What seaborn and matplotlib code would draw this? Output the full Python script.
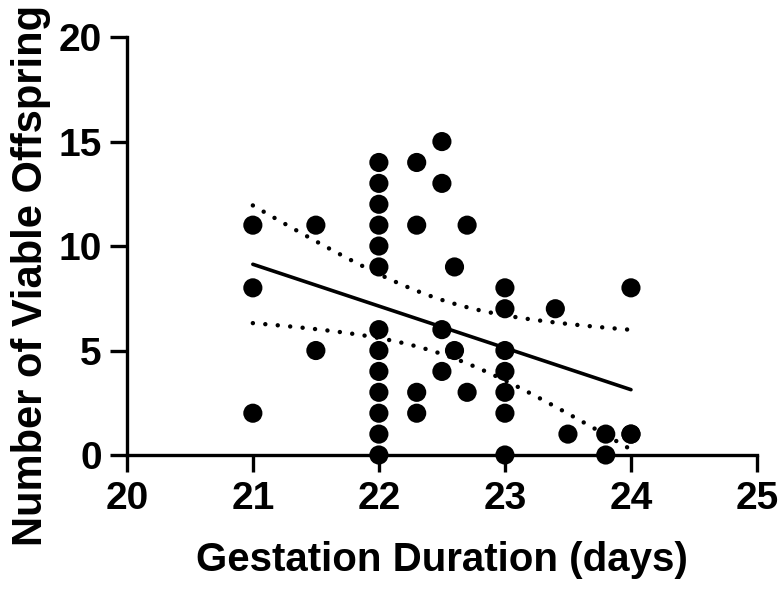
import numpy as np
import pandas as pd
import seaborn as sns
import matplotlib
matplotlib.use("Agg")
import matplotlib.pyplot as plt

sns.set_theme(style="ticks", rc={"axes.spines.right": False, "axes.spines.top": False})
plt.rcParams['font.family'] = ['Liberation Sans', 'DejaVu Sans']
plt.rcParams['font.weight'] = 'bold'

# gestation duration (days) and number of viable offspring
# (one hidden duplicate at 24 days / 1 offspring, overlapping a visible dot)
gestation = ([21.0] * 3 + [21.5] * 2 + [22.0] * 13 + [22.3] * 4 + [22.5] * 4
             + [22.6] * 2 + [22.7] * 2 + [23.0] * 7 + [23.4] + [23.5]
             + [23.8] * 2 + [24.0] * 3)
offspring = ([11, 8, 2] + [11, 5]
             + [14, 13, 12, 11, 10, 9, 6, 5, 4, 3, 2, 1, 0]
             + [14, 11, 3, 2] + [15, 13, 6, 4] + [9, 5] + [11, 3]
             + [8, 7, 5, 4, 3, 2, 0] + [7] + [1] + [1, 0] + [8, 1, 1])

x_ticks = [20, 21, 22, 23, 24, 25]
y_ticks = [0, 5, 10, 15, 20]

df = pd.DataFrame({'gestation': gestation, 'offspring': offspring})

# linear fit with 95% confidence band
x = df['gestation'].values
y = df['offspring'].values
n = len(x)
slope, intercept = np.polyfit(x, y, 1)
xg = np.linspace(x.min(), x.max(), 100)
yg = intercept + slope * xg
resid = y - (intercept + slope * x)
s = np.sqrt((resid ** 2).sum() / (n - 2))
sxx = ((x - x.mean()) ** 2).sum()
t_crit = 2.018  # t(0.975, df~42)
half = t_crit * s * np.sqrt(1 / n + (xg - x.mean()) ** 2 / sxx)
fit = pd.DataFrame({'x': xg, 'fit': yg, 'lo': yg - half, 'hi': yg + half})

fig = plt.figure(figsize=(7.78, 5.89), dpi=100)
ax = fig.add_axes([0.163, 0.2275, 0.81, 0.7095])

sns.scatterplot(data=df, x='gestation', y='offspring', ax=ax, color='black',
                s=190, edgecolor='none', zorder=3, clip_on=False)
sns.lineplot(data=fit, x='x', y='fit', ax=ax, color='black', linewidth=2.6)
for col in ['lo', 'hi']:
    ln = sns.lineplot(data=fit, x='x', y=col, ax=ax, color='black', linewidth=3.2)
    ln.lines[-1].set_linestyle((0, (0.01, 2.8)))
    ln.lines[-1].set_dash_capstyle('round')

ax.set_xlim(20, 25)
ax.set_ylim(0, 20)
ax.set_xticks(x_ticks)
ax.set_yticks(y_ticks)
for sp in ['left', 'bottom']:
    ax.spines[sp].set_linewidth(2.4)
    ax.spines[sp].set_color('black')
ax.tick_params(axis='both', length=12, width=2.4, color='black', labelsize=28,
               labelcolor='black')
ax.tick_params(axis='x', pad=7)
ax.tick_params(axis='y', pad=6)
for lab in ax.get_xticklabels() + ax.get_yticklabels():
    lab.set_fontweight('bold')

ax.set_xlabel('Gestation Duration (days)', fontsize=29, fontweight='bold',
              color='black')
ax.set_ylabel('Number of Viable Offspring', fontsize=30, fontweight='bold',
              color='black')
ax.xaxis.set_label_coords(0.5, -0.205)
ax.yaxis.set_label_coords(-0.12, 0.43)

fig.savefig('out.png', dpi=100)
